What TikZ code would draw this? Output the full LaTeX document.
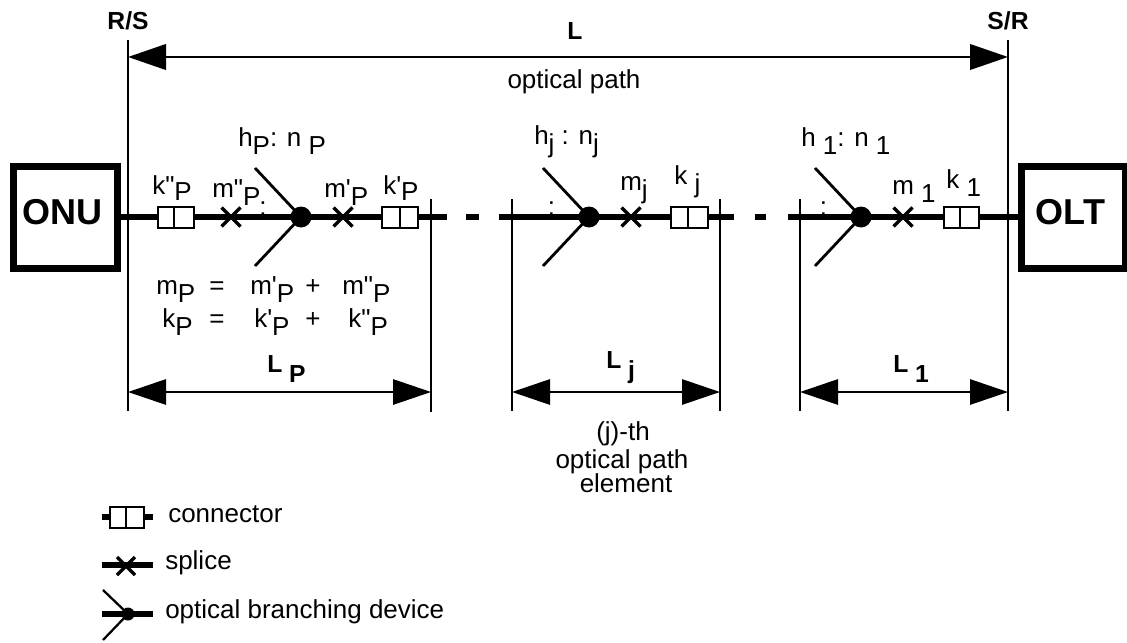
\documentclass[tikz,border=0pt]{standalone}
\usepackage{fontspec}
\setmainfont{Liberation Sans}[Ligatures=TeXOff]
\usepackage{tikz}
\usetikzlibrary{arrows.meta}
\usepackage{tkz-euclide}

\newcommand{\lowsub}[2][6pt]{\raisebox{-#1}{#2}}
\newcommand{\connbox}[3]{% left, middle, right at height 217
    \draw[thick line, fill=white] (#1,207) rectangle (#3,228);
    \draw[thick line] (#2,207) -- (#2,228);
}
\newcommand{\splicex}[1]{% cross on the fibre
    \draw[splice line] ({#1-9.5},207.5) -- ({#1+9.5},226.5);
    \draw[splice line] ({#1-9.5},226.5) -- ({#1+9.5},207.5);
}
\newcommand{\branchdev}[1]{% splitter with two arms
    \draw[arm line] ({#1-46},168) -- (#1,217) -- ({#1-46},266);
    \fill (#1,217) circle (10.5);
}
\tikzset{
    fibre line/.style={line width=3.9pt, line cap=butt},
    thick line/.style={line width=1.9pt},
    splice line/.style={line width=2.6pt},
    arm line/.style={line width=2.1pt},
    thin line/.style={line width=1.1pt, line cap=butt},
    dim line/.style={line width=1.4pt, line cap=butt, {Triangle[length=28.5pt,width=19pt]}-{Triangle[length=28.5pt,width=19pt]}},
    txt/.style={anchor=base west, inner sep=0pt, font=\fontsize{19.5}{21}\selectfont},
    txtb/.style={txt, font=\fontsize{18.5}{21}\selectfont\bfseries},
    unit/.style={line width=5.25pt, fill=white},
    unit text/.style={txtb, font=\fontsize{27}{27}\selectfont\bfseries, anchor=base},
}

\begin{document}
\begin{tikzpicture}[x=0.75pt, y=-0.75pt]
    \useasboundingbox (0,0) rectangle (1127,642);

    % --- 1. reference planes and element limits ---
    \tkzDefPoint(128,40){RS_t}
    \tkzDefPoint(128,411){RS_b}
    \tkzDefPoint(1008,40){SR_t}
    \tkzDefPoint(1008,411){SR_b}
    \tkzDefPoint(431,199){P_t}
    \tkzDefPoint(431,412){P_b}
    \tkzDefPoint(512,199){Ja_t}
    \tkzDefPoint(512,411){Ja_b}
    \tkzDefPoint(720,199){Jb_t}
    \tkzDefPoint(720,411){Jb_b}
    \tkzDefPoint(800,199){A_t}
    \tkzDefPoint(800,411){A_b}

    % --- 2. fibre ---
    \tkzDefPoint(118,217){F_a}
    \tkzDefPoint(447,217){F_b}
    \tkzDefPoint(466,217){F_c}
    \tkzDefPoint(479,217){F_d}
    \tkzDefPoint(499,217){F_e}
    \tkzDefPoint(734,217){F_f}
    \tkzDefPoint(755,217){F_g}
    \tkzDefPoint(766,217){F_h}
    \tkzDefPoint(788,217){F_i}
    \tkzDefPoint(1020,217){F_j}
    \tkzDrawSegments[fibre line](F_a,F_b F_c,F_d F_e,F_f F_g,F_h F_i,F_j)
    \tkzDrawSegments[thin line](RS_t,RS_b SR_t,SR_b Ja_t,Ja_b Jb_t,Jb_b A_t,A_b)
    \tkzDrawSegments[thin line, line width=1.9pt](P_t,P_b)

    % --- 3. end units ---
    \draw[unit] (13,166.5) rectangle (117,268.5);
    \draw[unit] (1021,166.5) rectangle (1125,268.5);
    \node[unit text] (onu) at (62.5,224) {ONU};
    \node[unit text] (olt) at (1070.5,224) {OLT};

    % --- 4. element P ---
    \connbox{158}{174}{194}
    \splicex{231}
    \branchdev{301}
    \splicex{343}
    \connbox{382}{400}{418}
    \node[txt] (hp) at (238,146) {h\lowsub{P}: n \lowsub{P}};
    \node[txt] (colp) at (259,215) {:};
    \node[txt] (kpp) at (152,194) {k"\lowsub[4.5pt]{P}};
    \node[txt] (mpp) at (212,197) {m"\lowsub{P}};
    \node[txt] (mp) at (324,197) {m'\lowsub{P}};
    \node[txt] (kp) at (383,194) {k'\lowsub[4.5pt]{P}};
    \node[txt] (msum) at (156,294) {m\lowsub{P}};
    \node[txt] (meq) at (209,294) {=};
    \node[txt] (ma) at (250,294) {m'\lowsub{P}};
    \node[txt] (mplus) at (305,294) {+};
    \node[txt] (mb) at (342,294) {m"\lowsub{P}};
    \node[txt] (ksum) at (162,327) {k\lowsub{P}};
    \node[txt] (keq) at (209,327) {=};
    \node[txt] (ka) at (254,327) {k'\lowsub{P}};
    \node[txt] (kplus) at (305,327) {+};
    \node[txt] (kb) at (348,327) {k"\lowsub{P}};

    % --- 5. element j ---
    \branchdev{589}
    \splicex{631}
    \connbox{671}{688}{708}
    \node[txt] (hj) at (534,144) {h\lowsub{j} : n\lowsub{j}};
    \node[txt] (colj) at (547.5,215) {:};
    \node[txt] (mj) at (620,190) {m\lowsub{j}};
    \node[txt] (kj) at (674,184) {k \lowsub{j}};

    % --- 6. element 1 ---
    \branchdev{861}
    \splicex{903}
    \connbox{944}{960}{979}
    \node[txt] (ha) at (801,146) {h \lowsub{1}: n \lowsub{1}};
    \node[txt] (cola) at (819.5,215) {:};
    \node[txt] (ma1) at (892,194) {m \lowsub{1}};
    \node[txt] (ka1) at (946,188) {k \lowsub{1}};

    % --- 7. lengths ---
    \tkzDefPoint(128,57){L_a}
    \tkzDefPoint(1008,57){L_b}
    \tkzDefPoint(128,392){LP_a}
    \tkzDefPoint(431,392){LP_b}
    \tkzDefPoint(512,392){Lj_a}
    \tkzDefPoint(720,392){Lj_b}
    \tkzDefPoint(800,392){La_a}
    \tkzDefPoint(1008,392){La_b}
    \tkzDrawSegments[dim line, line width=2.2pt](L_a,L_b)
    \tkzDrawSegments[dim line](LP_a,LP_b Lj_a,Lj_b La_a,La_b)
    \node[txtb, anchor=base] (rs) at (128,30) {R/S};
    \node[txtb, anchor=base] (sr) at (1008,30) {S/R};
    \node[txtb, anchor=base] (ll) at (575,40) {L};
    \node[txt, anchor=base] (path) at (574,89) {optical path};
    \node[txtb] (lp) at (267,372) {L \lowsub[7.5pt]{P}};
    \node[txtb] (lj) at (606,368) {L \lowsub[7.5pt]{j}};
    \node[txtb] (la) at (893,372) {L \lowsub[7.5pt]{1}};
    \node[txt, anchor=base] (jth) at (623,440) {(j)-th};
    \node[txt, anchor=base] (jpath) at (622,468) {optical path};
    \node[txt, anchor=base] (jel) at (626,492) {element};

    % --- 8. legend ---
    \tkzDefPoint(102,517){K_a}
    \tkzDefPoint(153,517){K_b}
    \tkzDefPoint(102,565){S_a}
    \tkzDefPoint(153,565){S_b}
    \tkzDefPoint(102,614){B_a}
    \tkzDefPoint(153,614){B_b}
    \tkzDrawSegments[fibre line](K_a,K_b S_a,S_b B_a,B_b)
    \draw[thin line, line width=1.4pt, fill=white] (110,507) rectangle (144,528);
    \draw[thin line, line width=1.4pt] (126,507) -- (126,528);
    \draw[splice line] (117,557) -- (135,575);
    \draw[splice line] (117,575) -- (135,557);
    \draw[arm line, line width=1.7pt] (103,590) -- (128,614) -- (103,640);
    \fill (128,614) circle (6.5);
    \node[txt] (kleg) at (168,522) {connector};
    \node[txt] (sleg) at (165,569) {splice};
    \node[txt] (bleg) at (165,618) {optical branching device};
\end{tikzpicture}
\end{document}
